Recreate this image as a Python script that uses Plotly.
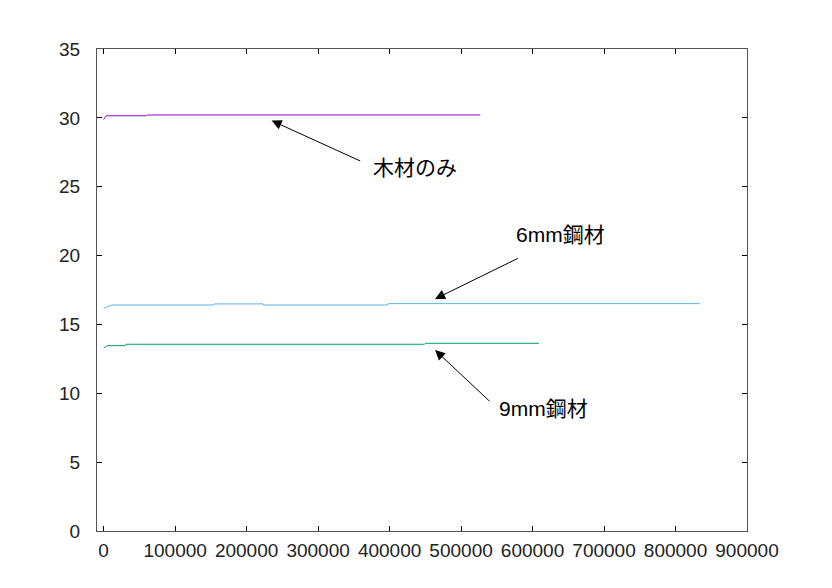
import plotly.graph_objects as go

# Data
wood_x = [0, 3500, 60000, 61000, 527000]
wood_y = [29.88, 30.15, 30.15, 30.21, 30.21]

mm6_x = [0, 11500, 154000, 155000, 223000, 224000, 397000, 398000, 834000]
mm6_y = [16.17, 16.41, 16.41, 16.49, 16.49, 16.41, 16.41, 16.51, 16.51]

mm9_x = [0, 5000, 30000, 31000, 449000, 450000, 609000]
mm9_y = [13.27, 13.46, 13.46, 13.56, 13.56, 13.63, 13.63]

x_ticks = [0, 100000, 200000, 300000, 400000, 500000, 600000, 700000, 800000, 900000]
y_ticks = [0, 5, 10, 15, 20, 25, 30, 35]

labels = ["木材のみ", "6mm鋼材", "9mm鋼材"]
# (head x, head y, tail x, tail y, text x, text y)
arrows = [
    (235000, 29.8, 361000, 26.82, 374000, 26.43),
    (463600, 16.85, 581500, 19.85, 574000, 21.5),
    (463600, 13.14, 542000, 9.32, 550500, 8.86),
]

fig = go.Figure()
fig.add_trace(go.Scatter(x=wood_x, y=wood_y, mode="lines",
                         line=dict(color="#9400d3", width=1), showlegend=False))
fig.add_trace(go.Scatter(x=mm6_x, y=mm6_y, mode="lines",
                         line=dict(color="#56b4e9", width=1), showlegend=False))
fig.add_trace(go.Scatter(x=mm9_x, y=mm9_y, mode="lines",
                         line=dict(color="#009e73", width=1), showlegend=False))

font_cjk = "Liberation Sans, Noto Sans CJK JP"
for lab, (hx, hy, tx, ty, lx, ly) in zip(labels, arrows):
    fig.add_annotation(x=hx, y=hy, ax=tx, ay=ty, xref="x", yref="y",
                       axref="x", ayref="y", text="", showarrow=True,
                       arrowhead=2, arrowsize=2, arrowwidth=1, arrowcolor="black")
    fig.add_annotation(x=lx, y=ly, xref="x", yref="y", text=lab, showarrow=False,
                       xanchor="left", yanchor="middle",
                       font=dict(family=font_cjk, size=21, color="black"))

axis_common = dict(showline=True, linecolor="#555555", linewidth=1, mirror="ticks",
                   ticks="inside", ticklen=5, tickcolor="black", showgrid=False,
                   zeroline=False, tickfont=dict(family="Liberation Sans", size=19, color="#222222"))

fig.update_xaxes(range=[-9300, 900000], tickvals=x_ticks,
                 ticktext=[str(v) for v in x_ticks], ticklabelstandoff=2, **axis_common)
fig.update_yaxes(range=[0, 35], tickvals=y_ticks,
                 ticktext=[str(v) for v in y_ticks], ticklabelstandoff=12, **axis_common)

# page body has an 8px margin, compensated here
fig.update_layout(width=832, height=588, plot_bgcolor="white", paper_bgcolor="white",
                  margin=dict(l=89, r=93, t=41, b=65))

fig.write_html("out.html")
